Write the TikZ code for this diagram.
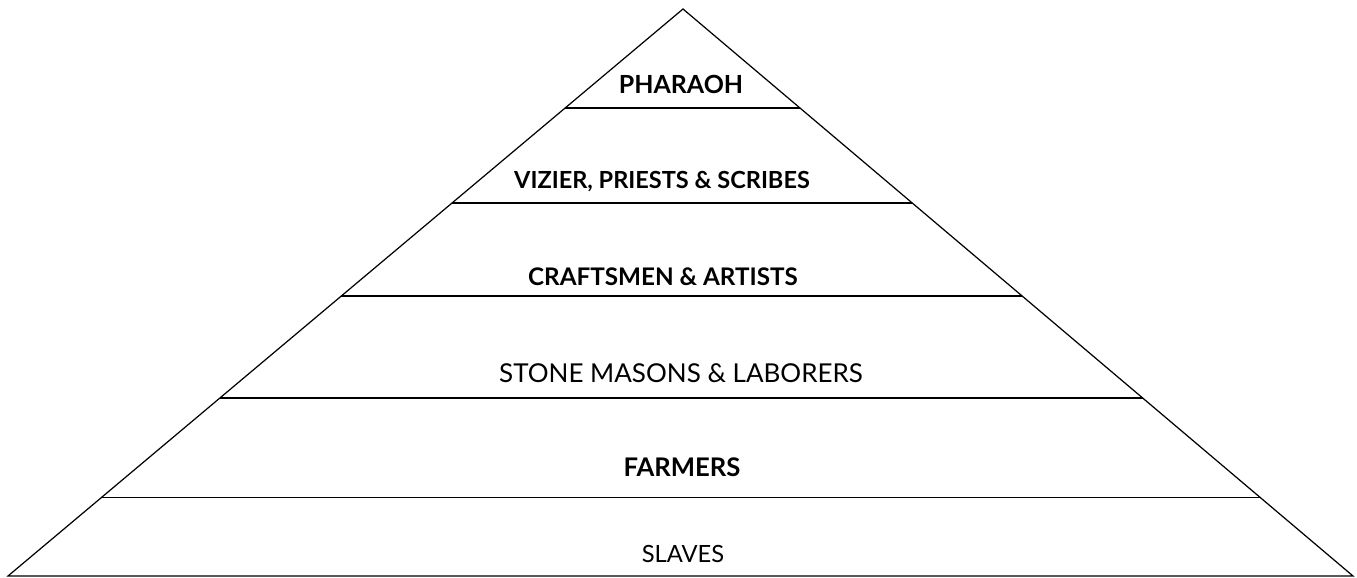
\documentclass[tikz,border=0pt]{standalone}
\usepackage{fontspec}
\setmainfont{Lato}
\usetikzlibrary{calc}

\begin{document}
\begin{tikzpicture}[%
    x=0.02cm,
    y=-0.02cm,
    tier/.style={
      draw=black,
      line width=0.7pt
    },
    rank/.style={
      font=\fontsize{14.8}{17}\selectfont,
      inner sep=0pt,
      anchor=center
    },
    rankbold/.style={
      rank,
      font=\fontsize{14.2}{17}\selectfont\bfseries
    }
  ]
    \useasboundingbox (0,0) rectangle (1357,578);
    \coordinate (apex) at (683,9);
    \coordinate (bl) at (8,576);
    \coordinate (br) at (1353,576);
    \draw[tier] (apex) -- (bl) -- (br) -- cycle;
    % layer lines
    \foreach \t/\n in {0.1746/a,0.342/b,0.506/c,0.686/d,0.861/e}{
      \draw[tier] ($(apex)!\t!(bl)$) coordinate (\n L) -- ($(apex)!\t!(br)$) coordinate (\n R);
    }
    \draw (681,84) node[rankbold] (pharaoh) {PHARAOH};
    \draw (662,182) node[rankbold,font=\fontsize{13.4}{16}\selectfont\bfseries] (vizier) {VIZIER, PRIESTS \& SCRIBES};
    \draw (663,277) node[rankbold,font=\fontsize{13.8}{16}\selectfont\bfseries] (crafts) {CRAFTSMEN \& ARTISTS};
    \draw (681,373) node[rank] (masons) {STONE MASONS \& LABORERS};
    \draw (682,467) node[rankbold,font=\fontsize{14.6}{17}\selectfont\bfseries] (farmers) {FARMERS};
    \draw (683,554) node[rank,font=\fontsize{13.5}{15}\selectfont] (slaves) {SLAVES};
  \end{tikzpicture}
\end{document}
